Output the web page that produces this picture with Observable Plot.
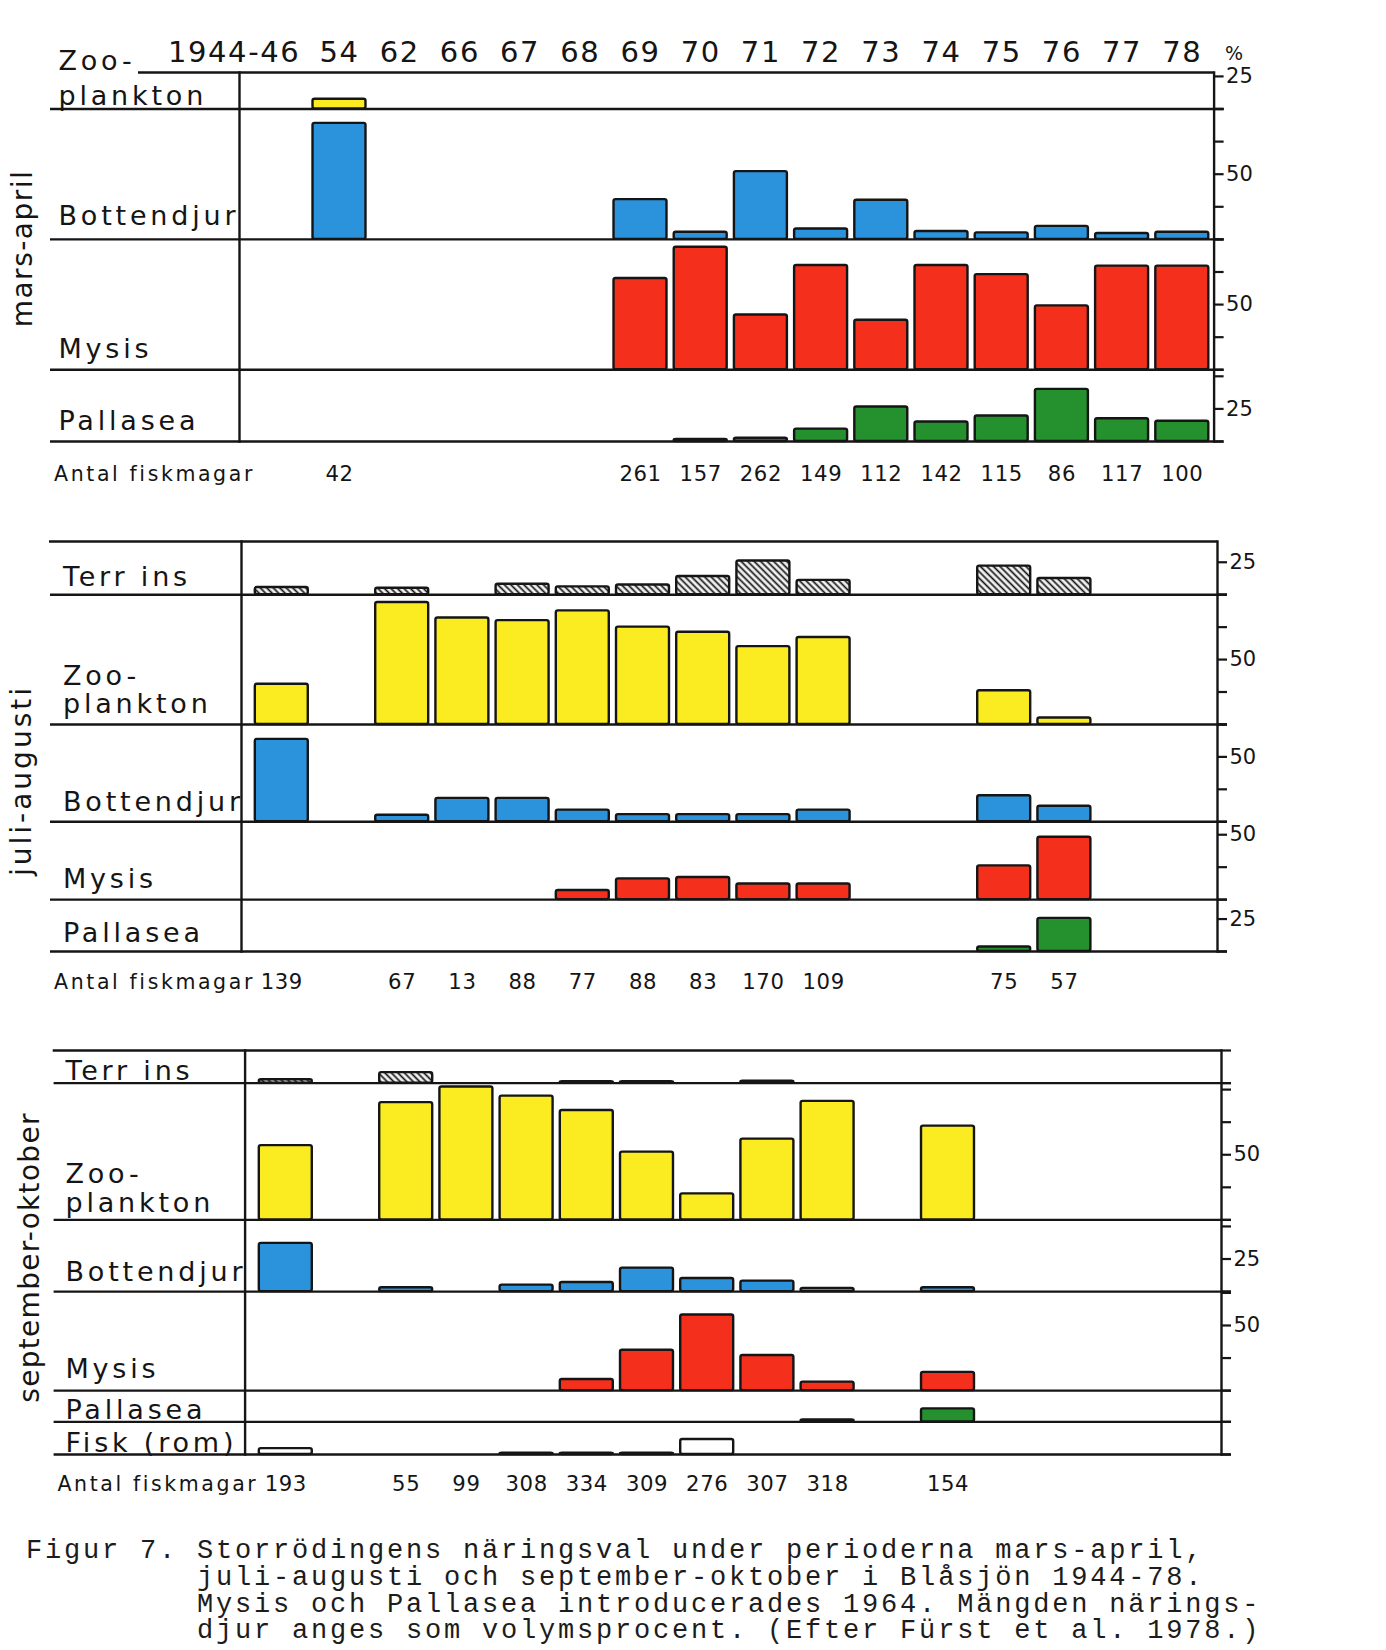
<!DOCTYPE html>
<html>
<head>
<meta charset="utf-8">
<script src="https://cdn.jsdelivr.net/npm/d3@7"></script>
<script src="https://cdn.jsdelivr.net/npm/@observablehq/plot@0.6"></script>
<style>
  html, body { margin: 0; padding: 0; background: #fff; overflow: hidden; }
  #chart { position: relative; width: 1386px; height: 1650px; }
  #chart svg { display: block; }
  #caption {
    position: absolute; left: 26px; top: 1538px; margin: 0;
    font-family: "Liberation Mono", "DejaVu Sans Mono", monospace;
    font-size: 27px; line-height: 26.8px; letter-spacing: 2.8px;
    white-space: pre; color: #1c1c1c;
  }
</style>
</head>
<body>
<svg width="0" height="0" style="position:absolute">
  <defs>
    <pattern id="hatch" width="4.6" height="4.6" patternUnits="userSpaceOnUse" patternTransform="rotate(45)">
      <rect width="4.6" height="4.6" fill="#f4f4f4"></rect>
      <line x1="0" y1="2.3" x2="4.6" y2="2.3" stroke="#151515" stroke-width="1.7"></line>
    </pattern>
  </defs>
</svg>
<div id="chart">
<div id="caption">Figur 7. Storrödingens näringsval under perioderna mars-april,
         juli-augusti och september-oktober i Blåsjön 1944-78.
         Mysis och Pallasea introducerades 1964. Mängden närings-
         djur anges som volymsprocent. (Efter Fürst et al. 1978.)</div>
</div>
<script>
// ---------- DATA (volume %) ----------
const years = ["1944-46","54","62","66","67","68","69","70","71","72","73","74","75","76","77","78"];
const _ = null;

// mars-april
const maZooplankton = [_, 7.5, _, _, _, _, _, _, _, _, _, _, _, _, _, _];
const maBottendjur  = [_, 89, _, _, _, _, 30.5, 5.5, 52, 8, 30, 6, 5, 10, 4.5, 5.5];
const maMysis       = [_, _, _, _, _, _, 70, 94, 42, 80, 38, 80, 73, 49, 79.5, 79.5];
const maPallasea    = [_, _, _, _, _, _, _, 1.5, 2.5, 9.5, 26.5, 15, 19.5, 40, 17.5, 15.5];
const maAntal       = [_, 42, _, _, _, _, 261, 157, 262, 149, 112, 142, 115, 86, 117, 100];

// juli-augusti
const jaTerrIns     = [5.5, _, 5, _, 8, 6, 7.5, 14, 26, 11, _, _, 22, 12.5, _, _];
const jaZooplankton = [31, _, 94, 82, 80, 87.5, 75, 71, 60, 67, _, _, 26, 5, _, _];
const jaBottendjur  = [63.5, _, 5, 18, 18, 9, 5.5, 5.5, 5.5, 9, _, _, 20, 12, _, _];
const jaMysis       = [_, _, _, _, _, 7, 16, 17, 12, 12, _, _, 26, 48, _, _];
const jaPallasea    = [_, _, _, _, _, _, _, _, _, _, _, _, 3.5, 25.5, _, _];
const jaAntal       = [139, _, 67, 13, 88, 77, 88, 83, 170, 109, _, _, 75, 57, _, _];

// september-oktober
const soTerrIns     = [2.5, _, 8, _, _, 1, 1, _, 1.5, _, _, _, _, _, _, _];
const soZooplankton = [57, _, 90, 102, 95, 84, 52, 20, 62, 91, _, 72, _, _, _, _];
const soBottendjur  = [37, _, 3, _, 5, 7, 18, 10, 8, 2.5, _, 3, _, _, _, _];
const soMysis       = [_, _, _, _, _, 8.5, 31, 58, 27, 6.5, _, 14, _, _, _, _];
const soPallasea    = [_, _, _, _, _, _, _, _, _, 1.5, _, 10, _, _, _, _];
const soFisk        = [4.5, _, _, _, 1, 1, 1, 11.5, _, _, _, _, _, _, _, _];
const soAntal       = [193, _, 55, 99, 308, 334, 309, 276, 307, 318, _, 154, _, _, _, _];

// ---------- STYLE / LAYOUT ----------
const COLORS = {zoo: "#fbec22", bott: "#2b93dc", mysis: "#f4301d", pall: "#24902e", terr: "url(#hatch)", fisk: "#ffffff"};
const INK = "#151515";
const FONT = "DejaVu Sans";
// font sizes (also used to find the text groups for letter-spacing)
const FS = {rowLabel: 27, antal: 20.5, count: 21.2, tick: 21, header: 29, period: 28, pct: 19};
const LS = {rowLabel: 3.8, antal: 2.6, count: 0.6, header: 1.6};

const panels = [
  {period: "mars-april", offset: 0, height: 500, top: 72, bottom: 441, left: 239, right: 1213.6,
   xStart: 248.7, xEnd: 1211.9, lineStart: 50, topLineStart: 138, labelX: 58,
   periodX: 31, periodDy: -8.5, periodLS: 1.5, countDy: 39, antalX: 53.6, header: true, counts: maAntal,
   rows: [
     {label: "Zoo-\nplankton", values: maZooplankton, fill: COLORS.zoo, span: 28, tick: 25, raise: 4, lineHeight: 1.3},
     {label: "Bottendjur", values: maBottendjur, fill: COLORS.bott, span: 100, tick: 50, raise: 14},
     {label: "Mysis", values: maMysis, fill: COLORS.mysis, span: 100, tick: 50, raise: 12},
     {label: "Pallasea", values: maPallasea, fill: COLORS.pall, span: 55, tick: 25, raise: 12}
   ]},
  {period: "juli-augusti", offset: 500, height: 510, top: 541, bottom: 951, left: 241, right: 1217,
   xStart: 251.2, xEnd: 1214.4, lineStart: 50, topLineStart: 49, labelX: 62.5,
   periodX: 30, periodDy: 34, periodLS: 3, countDy: 37, antalX: 53.6, header: false, counts: jaAntal,
   rows: [
     {label: "Terr ins", values: jaTerrIns, fill: COLORS.terr, span: 41, tick: 25, raise: 9},
     {label: "Zoo-\nplankton", values: jaZooplankton, fill: COLORS.zoo, span: 100, tick: 50, raise: 11, lineHeight: 1.06},
     {label: "Bottendjur", values: jaBottendjur, fill: COLORS.bott, span: 75, tick: 50, raise: 11},
     {label: "Mysis", values: jaMysis, fill: COLORS.mysis, span: 60, tick: 50, raise: 11.5},
     {label: "Pallasea", values: jaPallasea, fill: COLORS.pall, span: 40, tick: 25, raise: 10}
   ]},
  {period: "september-oktober", offset: 1010, height: 500, top: 1050, bottom: 1454, left: 244.6, right: 1221,
   xStart: 255.2, xEnd: 1218.4, lineStart: 53.6, topLineStart: 52.7, labelX: 65,
   periodX: 38.5, periodDy: 5, periodLS: 1.3, countDy: 36, antalX: 57, header: false, counts: soAntal,
   rows: [
     {label: "Terr ins", values: soTerrIns, fill: COLORS.terr, span: 25, tick: null, raise: 3},
     {label: "Zoo-\nplankton", values: soZooplankton, fill: COLORS.zoo, span: 105, tick: 50, raise: 8, lineHeight: 1.06},
     {label: "Bottendjur", values: soBottendjur, fill: COLORS.bott, span: 55, tick: 25, raise: 11},
     {label: "Mysis", values: soMysis, fill: COLORS.mysis, span: 76, tick: 50, raise: 12.5},
     {label: "Pallasea", values: soPallasea, fill: COLORS.pall, span: 24, tick: null, raise: 3},
     {label: "Fisk (rom)", values: soFisk, fill: COLORS.fisk, span: 25, tick: null, raise: 3}
   ]}
];

function drawPanel(p) {
  const W = 1386;
  const total = d3.sum(p.rows, r => r.span);
  let acc = total;
  const rows = p.rows.map(r => { acc -= r.span; return {...r, base: acc}; });
  const ML = p.left, MR = W - p.right, frameW = p.right - p.left;
  const ticks = rows.flatMap(r => d3.range(0, r.span + 1, 25).map(t => ({y: r.base + t, t, show: t === r.tick})));
  const counts = p.counts.map((n, i) => ({year: years[i], n})).filter(d => d.n != null);

  const marks = [
    Plot.ruleY(rows.map(r => r.base), {y: d => d, stroke: INK, strokeWidth: 2.4, insetLeft: -(ML - p.lineStart), insetRight: -10}),
    Plot.ruleY([total], {y: d => d, stroke: INK, strokeWidth: 2.4, insetLeft: -(ML - p.topLineStart)}),
    Plot.frame({anchor: "left", stroke: INK, strokeWidth: 2.4}),
    Plot.frame({anchor: "right", stroke: INK, strokeWidth: 2.4}),
    Plot.ruleY(ticks, {y: "y", stroke: INK, strokeWidth: 2.2, insetLeft: frameW, insetRight: -10}),
    Plot.text(ticks.filter(d => d.show), {y: "y", text: d => String(d.t), frameAnchor: "right", dx: 12,
      textAnchor: "start", lineAnchor: "middle", fontSize: FS.tick, fontFamily: FONT})
  ];
  for (const r of rows) {
    const data = r.values.map((v, i) => ({year: years[i], v})).filter(d => d.v != null);
    marks.push(Plot.barY(data, {x: "year", y1: () => r.base, y2: d => r.base + d.v,
      fill: r.fill, stroke: INK, strokeWidth: 2.4, rx: 2}));
    marks.push(Plot.text([r.label], {y: () => r.base, text: d => d, frameAnchor: "left", dx: p.labelX - ML, dy: -r.raise,
      textAnchor: "start", lineAnchor: "bottom", lineHeight: r.lineHeight || 1, fontSize: FS.rowLabel, fontFamily: FONT}));
  }
  marks.push(Plot.text(counts, {x: "year", text: d => String(d.n), frameAnchor: "bottom", dy: p.countDy,
    lineAnchor: "bottom", fontSize: FS.count, fontFamily: FONT}));
  marks.push(Plot.text(["Antal fiskmagar"], {text: d => d, frameAnchor: "bottom-left", dx: p.antalX - ML, dy: p.countDy,
    textAnchor: "start", lineAnchor: "bottom", fontSize: FS.antal, fontFamily: FONT}));
  marks.push(Plot.text([p.period], {text: d => d, y: () => total / 2, frameAnchor: "left", dx: p.periodX - ML, dy: p.periodDy,
    rotate: -90, textAnchor: "middle", lineAnchor: "bottom", fontSize: FS.period, fontFamily: FONT}));
  if (p.header) {
    marks.push(Plot.text(years.slice(0, 1), {x: d => d, text: d => d, frameAnchor: "top", dy: -11, dx: 21,
      textAnchor: "end", lineAnchor: "bottom", fontSize: FS.header, fontFamily: FONT}));
    marks.push(Plot.text(years.slice(1), {x: d => d, text: d => d, frameAnchor: "top", dy: -11,
      lineAnchor: "bottom", fontSize: FS.header, fontFamily: FONT}));
    marks.push(Plot.text(["%"], {text: d => d, frameAnchor: "top-right", dx: 11, dy: -13,
      textAnchor: "start", lineAnchor: "bottom", fontSize: FS.pct, fontFamily: FONT}));
  }

  const svg = Plot.plot({
    width: W, height: p.height,
    marginLeft: ML, marginRight: MR,
    marginTop: p.top - p.offset, marginBottom: p.offset + p.height - p.bottom,
    x: {type: "band", domain: years, range: [p.xStart, p.xEnd], paddingInner: 0.12, paddingOuter: 0.06, round: false, axis: null},
    y: {domain: [0, total], axis: null},
    style: {fontFamily: FONT, background: "transparent", overflow: "visible", color: INK},
    marks
  });
  // letter-spacing for the stencil-like lettering, applied per text group (found by its font size)
  const spacing = new Map([
    [FS.rowLabel, LS.rowLabel], [FS.antal, LS.antal], [FS.count, LS.count],
    [FS.header, LS.header], [FS.period, p.periodLS]
  ]);
  svg.querySelectorAll("g").forEach(g => {
    const fs = parseFloat(g.getAttribute("font-size"));
    if (spacing.has(fs)) {
      g.setAttribute("letter-spacing", spacing.get(fs));
      g.style.letterSpacing = spacing.get(fs) + "px";
    }
  });
  return svg;
}

const chart = document.getElementById("chart");
const caption = document.getElementById("caption");
for (const p of panels) chart.insertBefore(drawPanel(p), caption);
</script>
</body>
</html>
